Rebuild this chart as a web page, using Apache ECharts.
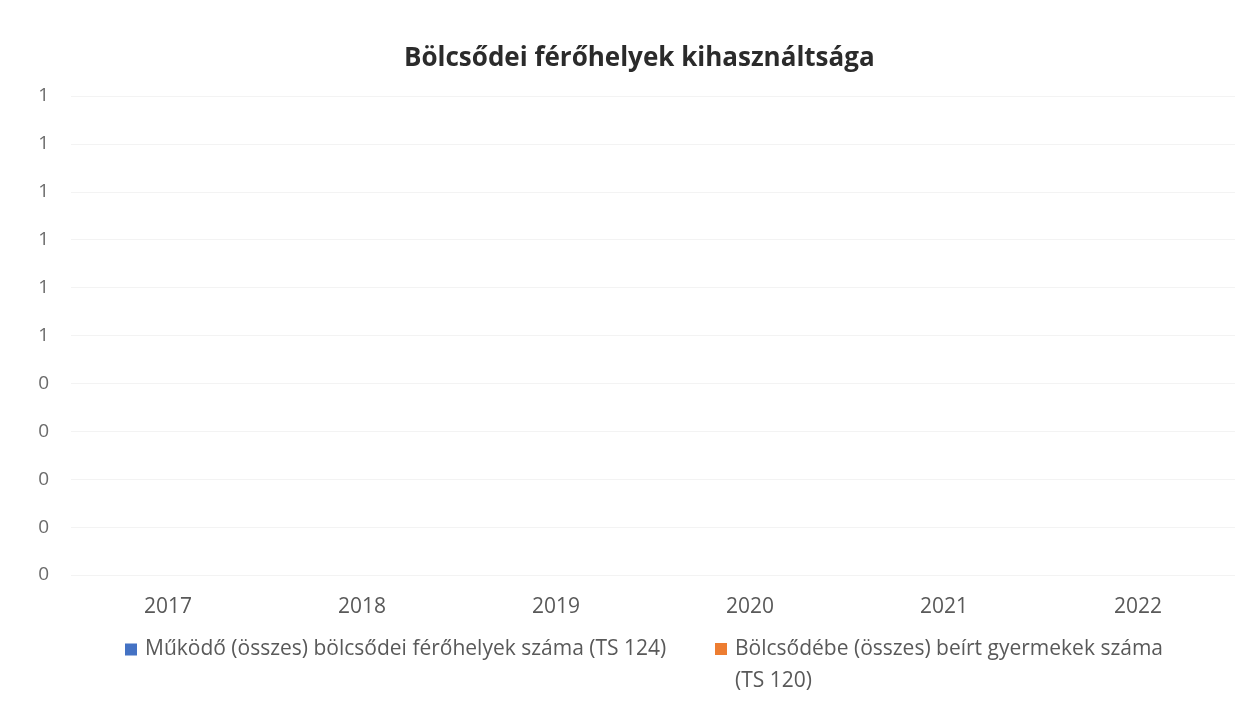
<!DOCTYPE html>
<html>
<head>
<meta charset="utf-8">
<script src="https://cdn.jsdelivr.net/npm/echarts@6/dist/echarts.min.js"></script>
<style>
  html, body { margin: 0; padding: 0; background: #ffffff; }
  #chart { width: 1259px; height: 708px; }
</style>
</head>
<body>
<div id="chart"></div>
<script>
// Years on the category axis
const years = ['2017', '2018', '2019', '2020', '2021', '2022'];
// Működő (összes) bölcsődei férőhelyek száma (TS 124)
const ferohelyek = [0, 0, 0, 0, 0, 0];
// Bölcsődébe (összes) beírt gyermekek száma (TS 120)
const beirtGyermekek = [0, 0, 0, 0, 0, 0];
// Value axis range and step
const yMin = 0, yMax = 1, yStep = 0.1;

const seriesNames = [
  'Működő (összes) bölcsődei férőhelyek száma (TS 124)',
  'Bölcsődébe (összes) beírt gyermekek száma (TS 120)'
];

const font = '"Open Sans", "Noto Sans", sans-serif';

// Legend markers: a 12px square, padded with an empty point so the
// text sits a little further right (and, for the wrapped entry, the
// square lines up with the first text line).
const squareIcon = 'path://M0,0h12v12h-12z M15,0h0.001';
const squareIconTall = 'path://M0,0h12v12h-12z M15,44h0.001';

const chart = echarts.init(document.getElementById('chart'), null, { renderer: 'canvas' });

chart.setOption({
  backgroundColor: '#ffffff',
  animation: false,
  title: {
    text: 'Bölcsődei férőhelyek kihasználtsága',
    left: 399,
    top: 41,
    textStyle: { fontFamily: font, fontSize: 26, fontWeight: 'bold', color: '#2b2b2b' }
  },
  legend: [
    {
      data: [seriesNames[0]],
      left: 120,
      top: 634,
      icon: squareIcon,
      itemWidth: 15,
      itemHeight: 12,
      textStyle: { fontFamily: font, fontSize: 21, color: '#595959' }
    },
    {
      data: [seriesNames[1]],
      left: 710,
      top: 628,
      icon: squareIconTall,
      itemWidth: 15,
      itemHeight: 44,
      formatter: () => 'Bölcsődébe (összes) beírt gyermekek száma\n(TS 120)',
      textStyle: { fontFamily: font, fontSize: 21, color: '#595959', lineHeight: 32 }
    }
  ],
  grid: { left: 71, right: 24, top: 96, bottom: 133, containLabel: false },
  xAxis: {
    type: 'category',
    data: years,
    axisLine: { show: false },
    axisTick: { show: false },
    axisLabel: { margin: 22, fontFamily: font, fontSize: 21, color: '#595959' },
    splitLine: { show: false }
  },
  yAxis: {
    type: 'value',
    min: yMin,
    max: yMax,
    interval: yStep,
    axisLine: { show: false },
    axisTick: { show: false },
    axisLabel: {
      margin: 22,
      fontFamily: font,
      fontSize: 19,
      color: '#6b6b6b',
      formatter: v => String(Math.round(v))
    },
    splitLine: { show: true, lineStyle: { color: '#f3f3f3', width: 1 } }
  },
  series: [
    { name: seriesNames[0], type: 'bar', data: ferohelyek, itemStyle: { color: '#4472C4' }, barGap: '0%' },
    { name: seriesNames[1], type: 'bar', data: beirtGyermekek, itemStyle: { color: '#ED7D31' } }
  ]
});
</script>
</body>
</html>
